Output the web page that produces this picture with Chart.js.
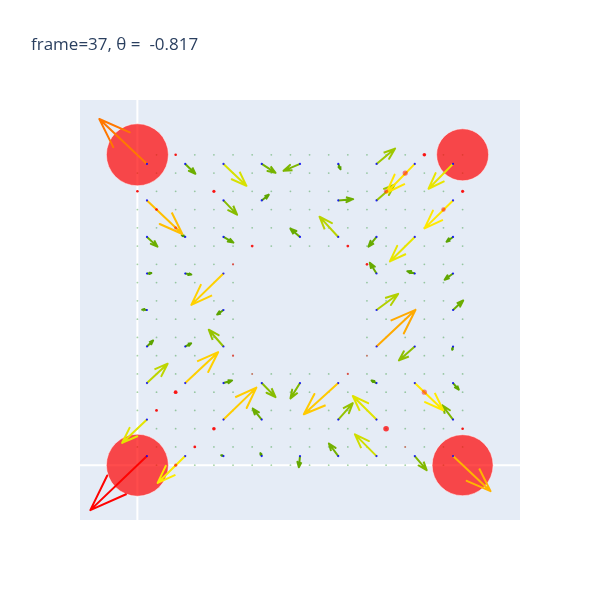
<!DOCTYPE html>
<html><head><meta charset="utf-8">
<script src="https://cdn.jsdelivr.net/npm/chart.js@4/dist/chart.umd.min.js"></script>
<style>html,body{margin:0;padding:0;background:#fff}#wrap{width:600px;height:600px;position:relative}</style>
</head><body><div id="wrap"><canvas id="c" width="600" height="600"></canvas></div>
<script>
const titleText = 'frame=37, θ =  -0.817';
// lattice of small tracer dots (grid units)
const gridCols = [0,1,2,3,4,5,6,7,8,9,10,11,12,13,14,15,16,17];
const gridRows = [0,1,2,3,4,5,6,7,8,9,10,11,12,13,14,15,16,17];
const emptyCols = [6,7,8,9,10,11];
const emptyRows = [6,7,8,9,10,11];
// arrow (field) sample positions
const arrowCols = [0.5,2.5,4.5,6.5,8.5,10.5,12.5,14.5,16.5];
const arrowRows = [16.5,14.5,12.5,10.5,8.5,6.5,4.5,2.5,0.5]; // top to bottom
// field components, rows top to bottom, null = no arrow
const arrowU = [
  [-2.49, 0.53, 1.20, 0.72,-0.86, 0.12, 0.97,-1.48,-1.28],
  [ 1.85, null, 0.71, 0.37, null, 0.78, 0.94, null,-1.49],
  [ 0.55,-0.18, 0.52, null,-0.50,-0.98,-0.42,-1.30,-0.34],
  [ 0.23, 0.32,-1.68, null, null, null,-0.35,-0.39,-0.44],
  [-0.25, null,-0.33, null, null, null, 1.13, null, 0.53],
  [ 0.32, 0.31,-0.77, null, null, null, 2.04,-0.83,-0.04],
  [ 1.08, 1.72, 0.45, 0.72,-0.50,-1.80,-0.26, 1.49, 0.30],
  [-1.30, null, 1.72,-0.47, null, 0.76,-1.24, null,-0.56],
  [-2.96,-1.44,-0.12,-0.07,-0.06,-0.49,-1.13, 0.62, 1.96]
];
const arrowV = [
  [ 2.46,-0.54,-1.20,-0.49,-0.38,-0.29, 0.84,-1.58,-1.36],
  [-1.84, null,-0.78, 0.31, null, 0.07, 0.86, null,-1.53],
  [-0.53, 0.10,-0.31, null, 0.45, 1.11,-0.53,-1.34,-0.26],
  [ 0.02,-0.06,-1.72, null, null, null, 0.59, 0.12,-0.34],
  [ 0.02, null,-0.25, null, null, null, 0.88, null, 0.52],
  [ 0.33, 0.18, 0.92, null, null, null, 2.01,-0.76,-0.18],
  [ 1.06, 1.69, 0.14,-0.77,-0.84,-1.71, 0.14,-1.49,-0.36],
  [-1.28, null, 1.75, 0.60, null, 0.90, 1.29, null, 0.78],
  [-2.96,-1.47, 0.05, 0.16,-0.61, 0.69, 1.19,-0.77,-1.92]
];
// big bodies
const bodyX = [0, 17, 0, 17];
const bodyY = [17, 17, 0, 0];
const bodyR = [31, 26, 31, 30.5];
// red particles
const redX = [2,0,4,1,2,6,5,5,6,11,12,12,11,14,13,16,15,17,13,15,17,2,1,4,3,2,14];
const redY = [17,15,15,14,13,12,11,6,5,12,11,6,5,16,15,14,17,15,2,4,2,4,3,2,1,0,1];
const redR = [1.3,1.3,1.6,1.3,1.6,1.4,1.1,1.1,1.0,1.4,1.3,1.0,1.1,2.6,2.1,2.2,1.8,1.6,2.8,2.6,1.3,1.9,1.4,1.8,1.4,1.6,1.0];
const redA = [0.9,0.9,0.9,0.9,0.5,0.85,0.6,0.6,0.4,0.85,0.85,0.4,0.6,0.5,0.5,0.5,0.9,0.9,0.75,0.45,0.9,0.9,0.9,0.9,0.9,0.6,0.4];

const magStops = [0, 0.8, 1.3, 1.7, 2.1, 2.45, 2.8, 3.5, 4.2];
const magColors = [[70,150,0],[110,175,0],[160,200,0],[215,225,0],[255,235,0],[255,205,0],[255,175,0],[255,120,0],[255,0,0]];
function magColor(m){
  if (m <= magStops[0]) return 'rgb(' + magColors[0].join(',') + ')';
  for (let k = 1; k < magStops.length; k++) {
    if (m <= magStops[k]) {
      const t = (m - magStops[k-1]) / (magStops[k] - magStops[k-1]);
      const a = magColors[k-1], b = magColors[k];
      return 'rgb(' + a.map((v, q) => Math.round(v + (b[q] - v) * t)).join(',') + ')';
    }
  }
  return 'rgb(' + magColors[magColors.length-1].join(',') + ')';
}

const datasets = [];
// tracer lattice
const latt = [];
gridRows.forEach(r => gridCols.forEach(c => {
  if (emptyCols.includes(c) && emptyRows.includes(r)) return;
  latt.push({x: c, y: r});
}));
datasets.push({data: latt, pointRadius: 0.9, pointBackgroundColor: 'rgba(0,128,0,0.35)', pointBorderWidth: 0, order: 6});
// bodies
datasets.push({data: bodyX.map((x, k) => ({x, y: bodyY[k]})), pointRadius: bodyR,
  pointBackgroundColor: 'rgba(255,0,0,0.7)', pointBorderColor: 'rgba(255,255,255,0.5)', pointBorderWidth: 1, order: 5});
// arrows
const tails = [];
const headScale = 0.5, headAngle = Math.PI / 9;
arrowRows.forEach((y0, j) => arrowCols.forEach((x0, i) => {
  const u = arrowU[j][i], v = arrowV[j][i];
  if (u === null || v === null) return;
  const x1 = x0 + u, y1 = y0 + v;
  const L = Math.hypot(u, v), th = Math.atan2(v, u), bl = headScale * L;
  const b1 = {x: x1 - bl * Math.cos(th + headAngle), y: y1 - bl * Math.sin(th + headAngle)};
  const b2 = {x: x1 - bl * Math.cos(th - headAngle), y: y1 - bl * Math.sin(th - headAngle)};
  datasets.push({data: [{x: x0, y: y0}, {x: x1, y: y1}, b1, {x: x1, y: y1}, b2],
    showLine: true, borderColor: magColor(L), borderWidth: 2, pointRadius: 0,
    borderJoinStyle: 'round', tension: 0, fill: false, order: 4});
  tails.push({x: x0, y: y0});
}));
datasets.push({data: tails, pointRadius: 1.1, pointBackgroundColor: 'rgba(0,0,255,0.85)', pointBorderWidth: 0, order: 3});
// red particles
datasets.push({data: redX.map((x, k) => ({x, y: redY[k]})), pointRadius: redR,
  pointBackgroundColor: redA.map(a => 'rgba(255,0,0,' + a + ')'), pointBorderWidth: 0, order: 2});

const decor = {
  id: 'decor',
  beforeDraw(chart) {
    const {ctx, chartArea: a} = chart;
    ctx.save();
    ctx.fillStyle = '#ffffff';
    ctx.fillRect(0, 0, chart.width, chart.height);
    ctx.fillStyle = '#e5ecf6';
    ctx.fillRect(a.left, a.top, a.right - a.left, a.bottom - a.top);
    const xs = chart.scales.x, ys = chart.scales.y;
    ctx.strokeStyle = '#ffffff';
    ctx.lineWidth = 2;
    const px = xs.getPixelForValue(0), py = ys.getPixelForValue(0);
    ctx.beginPath();
    ctx.moveTo(px, a.top); ctx.lineTo(px, a.bottom);
    ctx.moveTo(a.left, py); ctx.lineTo(a.right, py);
    ctx.stroke();
    ctx.restore();
  },
  afterDraw(chart) {
    const ctx = chart.ctx;
    ctx.save();
    ctx.fillStyle = '#2a3f5f';
    ctx.font = '17px "Open Sans"';
    ctx.textBaseline = 'alphabetic';
    ctx.textAlign = 'left';
    ctx.fillText(titleText, 31, 50);
    ctx.restore();
  }
};

new Chart(document.getElementById('c'), {
  type: 'scatter',
  data: {datasets},
  options: {
    responsive: false, animation: false, events: [],
    layout: {padding: {left: 80, right: 80, top: 100, bottom: 80}},
    scales: {
      x: {type: 'linear', min: -3, max: 20, display: false},
      y: {type: 'linear', min: -3, max: 20, display: false}
    },
    plugins: {legend: {display: false}, tooltip: {enabled: false}, title: {display: false}}
  },
  plugins: [decor]
});
</script></body></html>
